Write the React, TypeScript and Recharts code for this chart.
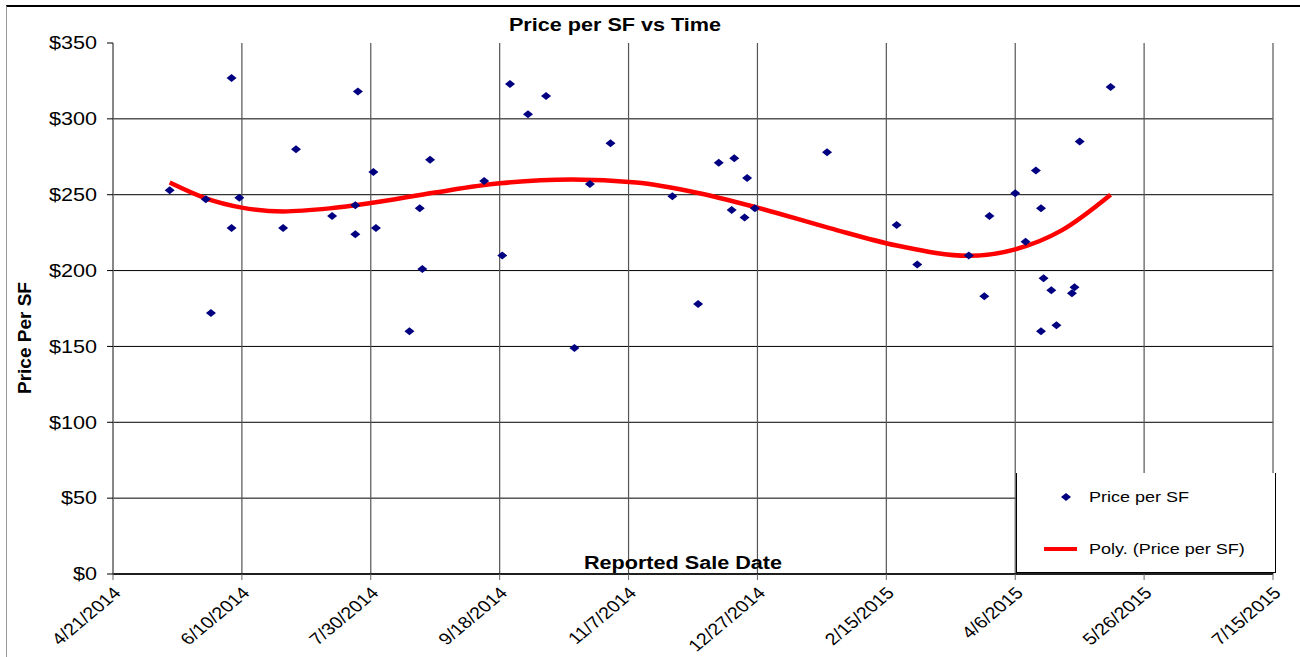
import { ComposedChart, Scatter, Line, XAxis, YAxis, CartesianGrid } from "recharts";

// days counted from 4/21/2014
const saleDays = [
  22, 36, 38, 46, 46, 49, 66, 71, 85, 94, 94, 95, 101, 102, 115, 119, 120, 123,
  144, 151, 154, 161, 168, 179, 185, 193, 217, 227, 235, 240, 241, 245, 246, 249,
  277, 304, 312, 332, 338, 340, 350, 354, 358, 360, 360, 361, 364, 366, 372, 373,
  375, 387,
];
const prices = [
  253, 247, 172, 327, 228, 248, 228, 280, 236, 224, 243, 318, 265, 228, 160, 241,
  201, 273, 259, 210, 323, 303, 315, 149, 257, 284, 249, 178, 271, 240, 274, 235,
  261, 241, 278, 230, 204, 210, 183, 236, 251, 219, 266, 241, 160, 195, 187, 164,
  185, 189, 285, 321,
];

// poly trendline
const trendDays = [22, 36, 50, 66, 84, 100, 125, 150, 178, 203, 226, 250, 278, 304, 332, 350, 368, 387];
const trendPrices = [258, 247.6, 241.5, 239, 241, 244.5, 251.5, 257.5, 260, 258, 251.5, 241.5, 228, 216.5, 209.7, 214, 226.5, 250];

const dateTickDays = [0, 50, 100, 150, 200, 250, 300, 350, 400, 450];
const dateTickLabels = [
  "4/21/2014", "6/10/2014", "7/30/2014", "9/18/2014", "11/7/2014",
  "12/27/2014", "2/15/2015", "4/6/2015", "5/26/2015", "7/15/2015",
];
const priceTicks = [0, 50, 100, 150, 200, 250, 300, 350];

const points = saleDays.map((day, i) => ({ day, price: prices[i] }));
const trend = trendDays.map((day, i) => ({ day, price: trendPrices[i] }));

const FONT = "Arial, 'Liberation Sans', sans-serif";
const NAVY = "#000080";

function Diamond(props: any) {
  const { cx, cy } = props;
  if (cx == null || cy == null) return <g />;
  return (
    <polygon
      points={`${cx - 5},${cy} ${cx},${cy - 4} ${cx + 5},${cy} ${cx},${cy + 4}`}
      fill={NAVY}
    />
  );
}

function DateTick(props: any) {
  const { x, y, payload } = props;
  const idx = dateTickDays.indexOf(payload.value);
  return (
    <text
      transform={`translate(${x + 9},${y + 12}) scale(1.2,1) rotate(-45)`}
      textAnchor="end"
      fontSize={16.5}
      fontFamily={FONT}
      fill="#000"
    >
      {dateTickLabels[idx]}
    </text>
  );
}

function PriceTick(props: any) {
  const { x, y, payload } = props;
  return (
    <text
      transform={`translate(${x - 8},${y}) scale(1.2,1)`}
      textAnchor="end"
      dominantBaseline="central"
      fontSize={18}
      fontFamily={FONT}
      fill="#000"
    >
      {"$" + payload.value}
    </text>
  );
}

export default function App() {
  return (
    <div
      style={{
        position: "absolute",
        left: 0,
        top: 0,
        width: 1300,
        height: 657,
        background: "#fff",
        fontFamily: FONT,
        overflow: "hidden",
      }}
    >
      <div
        style={{
          position: "absolute",
          left: 6,
          top: 5,
          width: 1300,
          height: 660,
          borderTop: "2px solid #000",
          borderLeft: "1px solid #999",
        }}
      />
      <ComposedChart
        width={1300}
        height={657}
        margin={{ top: 43, right: 27, bottom: 13, left: 53 }}
        style={{ position: "absolute", left: 0, top: 0 }}
      >
        <CartesianGrid
          vertical={false}
          stroke="#000"
          horizontalValues={priceTicks.filter((v) => v < 350)}
        />
        <CartesianGrid horizontal={false} stroke="#555" strokeWidth={1.2} />
        <XAxis
          type="number"
          dataKey="day"
          domain={[0, 450]}
          ticks={dateTickDays}
          interval={0}
          height={70}
          tick={<DateTick />}
          tickSize={6}
          axisLine={{ stroke: "#000", strokeWidth: 1.5 }}
          tickLine={{ stroke: "#666" }}
          allowDataOverflow
        />
        <YAxis
          type="number"
          dataKey="price"
          domain={[0, 350]}
          ticks={priceTicks}
          interval={0}
          width={60}
          tick={<PriceTick />}
          tickSize={6}
          axisLine={{ stroke: "#777" }}
          tickLine={{ stroke: "#000" }}
        />
        <Scatter
          data={points}
          dataKey="price"
          shape={<Diamond />}
          isAnimationActive={false}
        />
        <Line
          data={trend}
          dataKey="price"
          type="monotone"
          stroke="#ff0000"
          strokeWidth={4.5}
          dot={false}
          activeDot={false}
          isAnimationActive={false}
        />
      </ComposedChart>

      <div
        style={{
          position: "absolute",
          left: 0,
          width: 1230,
          top: 14,
          textAlign: "center",
          fontWeight: "bold",
          fontSize: 18,
          lineHeight: "22px",
          transform: "scaleX(1.2)",
          transformOrigin: "615px 0",
        }}
      >
        Price per SF vs Time
      </div>
      <div
        style={{
          position: "absolute",
          left: 683 - 100,
          width: 200,
          top: 552,
          textAlign: "center",
          fontWeight: "bold",
          fontSize: 18,
          transform: "scaleX(1.2)",
          transformOrigin: "100px 0",
          lineHeight: "22px",
        }}
      >
        Reported Sale Date
      </div>
      <div
        style={{
          position: "absolute",
          left: 25 - 100,
          top: 338 - 11,
          width: 200,
          height: 22,
          lineHeight: "22px",
          textAlign: "center",
          fontWeight: "bold",
          fontSize: 19,
          transform: "rotate(-90deg)",
        }}
      >
        Price Per SF
      </div>

      <div
        style={{
          position: "absolute",
          left: 1016,
          top: 473,
          width: 258,
          height: 99,
          background: "#fff",
          borderLeft: "1.5px solid #000",
          borderRight: "1px solid #000",
          borderBottom: "1px solid #000",
        }}
      >
        <svg width={60} height={100} style={{ position: "absolute", left: 0, top: 0 }}>
          <polygon points="44,24 49,20 54,24 49,28" fill={NAVY} />
          <line x1={27} y1={76} x2={67} y2={76} stroke="#ff0000" strokeWidth={4} />
        </svg>
        <div
          style={{
            position: "absolute",
            left: 72,
            top: 14,
            fontSize: 15,
            lineHeight: "20px",
            whiteSpace: "nowrap",
            transform: "scaleX(1.2)",
            transformOrigin: "0 0",
          }}
        >
          Price per SF
        </div>
        <div
          style={{
            position: "absolute",
            left: 72,
            top: 66,
            fontSize: 15,
            lineHeight: "20px",
            whiteSpace: "nowrap",
            transform: "scaleX(1.2)",
            transformOrigin: "0 0",
          }}
        >
          Poly. (Price per SF)
        </div>
      </div>
    </div>
  );
}
